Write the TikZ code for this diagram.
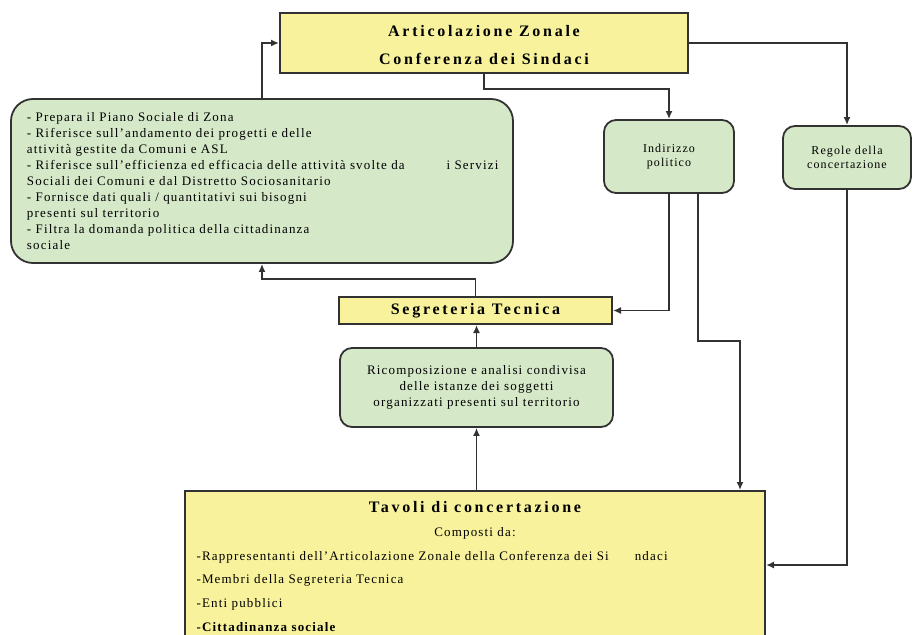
\documentclass[tikz,border=0pt]{standalone}
\usepackage{fontspec}
\setmainfont{Liberation Serif}
\newfontfamily\bodyfont[LetterSpace=9]{Liberation Serif}
\newfontfamily\titlefont[LetterSpace=17]{Liberation Serif}
\usetikzlibrary{calc,arrows.meta}
\definecolor{boxyellow}{RGB}{247,242,155}
\definecolor{boxgreen}{RGB}{213,232,200}
\definecolor{linegray}{RGB}{50,50,50}

\begin{document}
\begin{tikzpicture}[x=1pt,y=-1pt,>={Latex[length=8pt,width=7pt]},
  ybox/.style={draw=linegray,line width=2pt,fill=boxyellow,inner sep=0pt},
  gbox/.style={draw=linegray,line width=1.8pt,fill=boxgreen,rounded corners=12pt,inner sep=0pt},
  body/.style={font=\bodyfont\fontsize{13}{16}\selectfont},
  boldbody/.style={font=\bodyfont\bfseries\fontsize{13}{16}\selectfont},
  small/.style={font=\bodyfont\fontsize{12}{13.5}\selectfont},
  title/.style={font=\titlefont\bfseries\fontsize{16}{19}\selectfont},
  conn/.style={->,draw=linegray,line width=1.6pt}]
\useasboundingbox (0,0) rectangle (912,634);
% boxes
\node[ybox,title,minimum width=408pt,minimum height=60pt,align=center] (art) at (484,43)
  {\rule{0pt}{16pt}Articolazione Zonale\\[9pt]Conferenza dei Sindaci};
\node[gbox,body,rounded corners=22pt,minimum width=502pt,minimum height=164pt,text width=470pt,align=left] (prep) at (262,181)
  {- Prepara il Piano Sociale di Zona\\
   - Riferisce sull’andamento dei progetti e delle\\
   attività gestite da Comuni e ASL\\
   - Riferisce sull’efficienza ed efficacia delle attività svolte da\hspace{42pt}i Servizi\\
   Sociali dei Comuni e dal Distretto Sociosanitario\\
   - Fornisce dati quali / quantitativi sui bisogni\\
   presenti sul territorio\\
   - Filtra la domanda politica della cittadinanza\\
   sociale};
\node[gbox,small,minimum width=130pt,minimum height=73pt,align=center] (ind) at (669,156.5)
  {Indirizzo\\politico};
\node[gbox,small,minimum width=128pt,minimum height=63pt,align=center] (reg) at (847,157.5)
  {Regole della\\concertazione};
\node[ybox,title,minimum width=273pt,minimum height=27pt] (seg) at (475.5,310.5)
  {Segreteria Tecnica};
\node[gbox,body,minimum width=273pt,minimum height=79pt,align=center] (ric) at (476.5,387.5)
  {Ricomposizione e analisi condivisa\\delle istanze dei soggetti\\organizzati presenti sul territorio};
\node[ybox,minimum width=580pt,minimum height=148pt] (tav) at (475,565) {};
% testo tavoli
\node[title] (tavtit) at (475,507) {Tavoli di concertazione};
\node[body] (tavsub) at (475,533) {Composti da:};
\node[body,anchor=west] (t1) at (193,557)
  {-Rappresentanti dell’Articolazione Zonale della Conferenza dei Si\hspace{26pt}ndaci};
\node[body,anchor=west] (t2) at (193,580) {-Membri della Segreteria Tecnica};
\node[body,anchor=west] (t3) at (193,604) {-Enti pubblici};
\node[boldbody,anchor=west] (t4) at (193,627) {-Cittadinanza sociale};
% connettori
\draw[conn] (prep.north) |- (art.west);
\draw[conn] (art.south) -- ++(0,15) -| (ind.north);
\draw[conn] (art.east) -| (reg.north);
\draw[conn] (seg.north) -- ++(0,-17) -| (prep.south);
\draw[conn] (ric.north) -- (ric.north |- seg.south);
\draw[conn] (tav.north -| ric.south) -- (ric.south);
\draw[conn] (ind.south) |- (seg.east);
\draw[conn] ($(ind.south)+(29,0)$) -- ++(0,147) -| ($(tav.north)+(265,0)$);
\draw[conn] (reg.south) |- (tav.east);
\end{tikzpicture}
\end{document}
